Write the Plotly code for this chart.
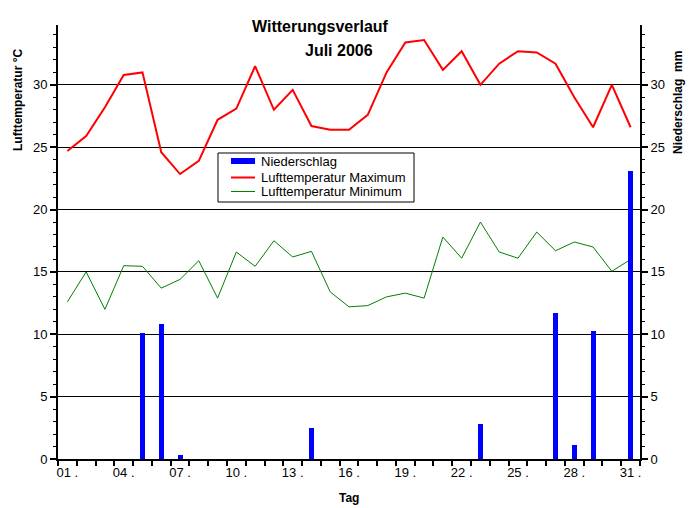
import plotly.graph_objects as go

days = list(range(1, 32))
tmax = [24.7, 25.9, 28.2, 30.8, 31.0, 24.6, 22.85, 23.9, 27.2, 28.1, 31.5, 28.0, 29.6, 26.7, 26.4,
        26.4, 27.6, 31.0, 33.4, 33.6, 31.2, 32.7, 30.0, 31.7, 32.7, 32.6, 31.7, 29.0, 26.6, 30.0, 26.6]
tmin = [12.6, 15.0, 12.0, 15.5, 15.45, 13.7, 14.4, 15.9, 12.9, 16.6, 15.45, 17.5, 16.2, 16.65, 13.4,
        12.2, 12.3, 13.0, 13.3, 12.9, 17.8, 16.1, 19.0, 16.6, 16.1, 18.2, 16.7, 17.4, 17.0, 15.05, 16.0]
precip = [0, 0, 0, 0, 10.1, 10.8, 0.3, 0, 0, 0, 0, 0, 0, 2.5, 0,
          0, 0, 0, 0, 0, 0, 0, 2.8, 0, 0, 0, 11.7, 1.1, 10.3, 0, 23.1]
xtick_vals = [1, 4, 7, 10, 13, 16, 19, 22, 25, 28, 31]
xtick_text = ["01 .", "04 .", "07 .", "10 .", "13 .", "16 .", "19 .", "22 .", "25 .", "28 .", "31 ."]
ytick_vals = [0, 5, 10, 15, 20, 25, 30]
series_names = ["Niederschlag", "Lufttemperatur Maximum", "Lufttemperatur Minimum"]
series_colors = ["#0000FF", "#FF0000", "#008000"]

FONT = "Liberation Sans, Arial, sans-serif"

# plot area in pixels (for placing layout items)
L, R, T, B = 58, 640, 25, 459
def px(x):
    return (x - L) / (R - L)
def py(y):
    return (B - y) / (B - T)

fig = go.Figure()
fig.add_trace(go.Bar(x=days, y=precip, name=series_names[0],
                     marker=dict(color=series_colors[0], line=dict(width=0)),
                     width=0.27, yaxis="y2"))
fig.add_trace(go.Scatter(x=days, y=tmax, name=series_names[1], mode="lines",
                         line=dict(color=series_colors[1], width=2)))
fig.add_trace(go.Scatter(x=days, y=tmin, name=series_names[2], mode="lines",
                         line=dict(color=series_colors[2], width=1)))

yr = [0, 34.8]
fig.update_layout(
    width=694, height=508,
    margin=dict(l=58, r=54, t=25, b=49),
    paper_bgcolor="white", plot_bgcolor="white",
    font=dict(family=FONT, size=12, color="black"),
    showlegend=False,
    xaxis=dict(range=[0.5, 31.5], tickmode="array", tickvals=xtick_vals, ticktext=xtick_text,
               ticks="", showgrid=False, zeroline=False, showline=True, linecolor="black", linewidth=2,
               minor=dict(tick0=0.5, dtick=1, ticks="outside", ticklen=5, tickwidth=2, tickcolor="black",
                          showgrid=False),
               tickfont=dict(size=13)),
    yaxis=dict(range=yr, tickmode="array", tickvals=ytick_vals, ticks="outside", ticklen=6, tickwidth=2,
               tickcolor="black", showgrid=True, gridcolor="black", gridwidth=1, zeroline=False,
               showline=True, linecolor="black", linewidth=2,
               minor=dict(dtick=1, ticks="outside", ticklen=3, tickwidth=1, tickcolor="black", showgrid=False),
               tickfont=dict(size=13)),
    yaxis2=dict(range=yr, overlaying="y", side="right", tickmode="array", tickvals=ytick_vals,
                ticks="outside", ticklen=6, tickwidth=2, tickcolor="black", showgrid=False, zeroline=False,
                showline=True, linecolor="black", linewidth=2,
                minor=dict(dtick=1, ticks="outside", ticklen=3, tickwidth=1, tickcolor="black", showgrid=False),
                tickfont=dict(size=13)),
    bargap=0,
)

# custom legend (box, symbols, labels)
fig.add_shape(type="rect", xref="paper", yref="paper", x0=px(218), x1=px(414), y0=py(202), y1=py(153),
              line=dict(color="black", width=1), fillcolor="white", layer="above")
fig.add_shape(type="rect", xref="paper", yref="paper", x0=px(231), x1=px(255), y0=py(164), y1=py(158),
              line=dict(width=0), fillcolor=series_colors[0], layer="above")
fig.add_shape(type="line", xref="paper", yref="paper", x0=px(231), x1=px(255), y0=py(177.5), y1=py(177.5),
              line=dict(color=series_colors[1], width=2), layer="above")
fig.add_shape(type="line", xref="paper", yref="paper", x0=px(231), x1=px(255), y0=py(191.5), y1=py(191.5),
              line=dict(color=series_colors[2], width=1), layer="above")
for name, yc in zip(series_names, [161, 177, 191]):
    fig.add_annotation(text=name, xref="paper", yref="paper", x=px(259), y=py(yc), showarrow=False,
                       font=dict(size=13), xanchor="left", yanchor="middle")

fig.add_annotation(text="<b>Witterungsverlauf</b>", xref="paper", yref="paper", x=px(320), y=py(27),
                   showarrow=False, font=dict(size=16), xanchor="center", yanchor="middle")
fig.add_annotation(text="<b>Juli 2006</b>", xref="paper", yref="paper", x=px(339), y=py(51),
                   showarrow=False, font=dict(size=16), xanchor="center", yanchor="middle")
fig.add_annotation(text="<b>Lufttemperatur °C</b>", xref="paper", yref="paper", x=px(18), y=py(100),
                   showarrow=False, textangle=-90, font=dict(size=12), xanchor="center", yanchor="middle")
fig.add_annotation(text="<b>Niederschlag  mm</b>", xref="paper", yref="paper", x=px(678), y=py(103),
                   showarrow=False, textangle=-90, font=dict(size=12), xanchor="center", yanchor="middle")
fig.add_annotation(text="<b>Tag</b>", xref="paper", yref="paper", x=px(349), y=py(498),
                   showarrow=False, font=dict(size=12), xanchor="center", yanchor="middle")

fig.write_html("out.html")
